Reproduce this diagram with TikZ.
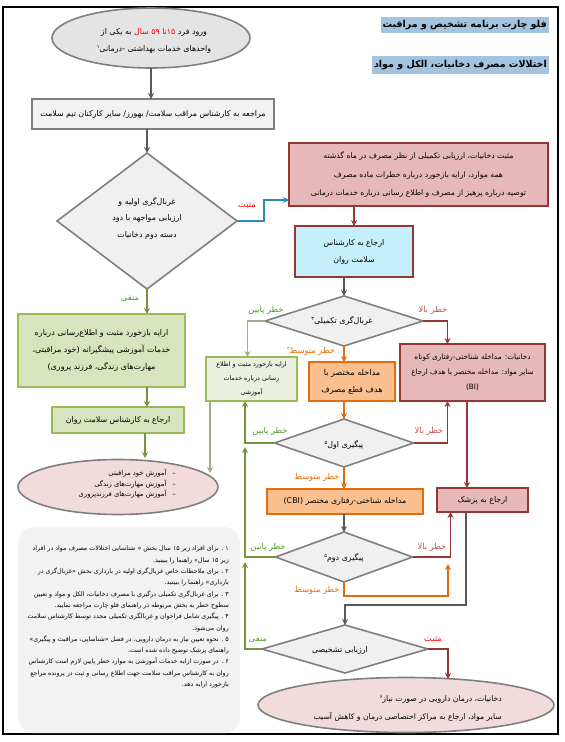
\documentclass[tikz,border=0pt]{standalone}
\usepackage{fontspec}
\usetikzlibrary{arrows.meta,shapes.geometric,calc}
\TeXXeTstate=1
\newfontfamily\fa[Script=Arabic]{DejaVu Sans}
\newcommand{\rl}[1]{\beginR #1\endR}
\newcommand{\sps}[1]{\raisebox{0.7ex}{\fontsize{5}{5}\selectfont #1}}
\definecolor{grayfill}{HTML}{F0F0F0}
\definecolor{ellgray}{HTML}{E4E4E4}
\definecolor{grayline}{HTML}{7F7F7F}
\definecolor{pinkfill}{HTML}{E6B9B8}
\definecolor{darkred}{HTML}{953735}
\definecolor{cyanfill}{HTML}{C6EFFC}
\definecolor{orfill}{HTML}{FAC090}
\definecolor{orline}{HTML}{E46C0A}
\definecolor{grfill}{HTML}{D7E4BD}
\definecolor{grline}{HTML}{9BBB59}
\definecolor{grpale}{HTML}{EBF1DE}
\definecolor{elpink}{HTML}{F2DCDB}
\definecolor{blueline}{HTML}{2E8BB8}
\definecolor{arrgreen}{HTML}{77933C}
\definecolor{graygreen}{HTML}{9FAD8C}
\definecolor{lblgreen}{HTML}{4E9A2A}
\definecolor{lblred}{HTML}{C0504D}
\definecolor{darkgray}{HTML}{595959}
\definecolor{titlebg}{HTML}{A3C4DE}
\definecolor{notefill}{HTML}{F2F2F2}
\tikzset{
  box/.style={draw, line width=1.6pt, inner sep=0pt, outer sep=0pt, align=center},
  dia/.style={diamond, draw=grayline, fill=grayfill, line width=1.6pt, inner sep=0pt, outer sep=0pt},
  ell/.style={ellipse, draw=grayline, line width=1.6pt, inner sep=0pt, outer sep=0pt},
  tx/.style={font=\fa\fontsize{7.9}{17}\selectfont, align=center, inner sep=0pt},
  lbl/.style={font=\fa\fontsize{8.3}{9}\selectfont, inner sep=0pt},
  conn/.style={line width=1.8pt, -{Stealth[length=6pt,width=6pt]}},
  gyarr/.style={conn, darkgray},
  garr/.style={conn, arrgreen},
  ggarr/.style={conn, graygreen},
  rarr/.style={conn, darkred},
  oarr/.style={conn, orline},
  barr/.style={conn, blueline},
}
\begin{document}
\begin{tikzpicture}[x=1pt,y=-1pt]
\useasboundingbox (0,0) rectangle (565,742);
\draw[line width=1.5pt] (3,7) rectangle (558,734);

% title
\node[fill=titlebg, inner xsep=2pt, inner ysep=3pt, font=\fa\bfseries\fontsize{9.5}{11}\selectfont, anchor=east] (t1) at (549,25) {\rl{فلو چارت برنامه تشخیص و مراقبت}};
\node[fill=titlebg, inner xsep=2pt, inner ysep=4pt, font=\fa\bfseries\fontsize{9.5}{11}\selectfont, anchor=east] (t2) at (549,65) {\rl{اختلالات مصرف دخانیات، الکل و مواد}};

% top ellipse
\node[ell, fill=ellgray, minimum width=198pt, minimum height=60pt] (e1) at (151,38) {};
\node[tx] (e1t) at (154,41) {\rl{به یکی از} \textcolor{red}{\rl{۱۵تا ۵۹ سال}} \rl{ورود فرد}\\\rl{واحدهای خدمات بهداشتی -درمانی\sps{۱}}};

% first rect
\node[box, draw=grayline, fill=notefill, minimum width=242pt, minimum height=30pt, tx] (r1) at (153,114) {\rl{مراجعه به کارشناس مراقب سلامت/ بهورز/ سایر کارکنان تیم سلامت}};

% big diamond
\node[dia, minimum width=180pt, minimum height=136pt] (d1) at (147,221) {};
\node[tx, font=\fa\fontsize{7.9}{16.5}\selectfont] (d1t) at (147,218) {\rl{غربال‌گری اولیه  و}\\\rl{ارزیابی مواجهه با دود}\\\rl{دسته دوم دخانیات}};

% pink top box
\node[box, draw=darkred, fill=pinkfill, minimum width=259pt, minimum height=63pt, font=\fa\fontsize{7.7}{18.5}\selectfont] (p1) at (418.5,174.5) {\rl{مثبت دخانیات، ارزیابی تکمیلی از نظر مصرف در ماه گذشته}\\\rl{همه موارد، ارایه بازخورد درباره خطرات ماده مصرف}\\\rl{توصیه درباره پرهیز از مصرف و اطلاع رسانی درباره خدمات درمانی}};

% cyan box
\node[box, draw=darkred, fill=cyanfill, minimum width=118pt, minimum height=51pt, font=\fa\fontsize{7.9}{17}\selectfont] (c1) at (354,251.5) {\rl{ارجاع به کارشناس}\\\rl{سلامت روان}};

% diamonds on the spine
\node[dia, minimum width=158pt, minimum height=50pt] (d2) at (344,321) {};
\node[tx] (d2t) at (342,321) {\rl{غربال‌گری تکمیلی\sps{۳}}};
\node[dia, minimum width=139pt, minimum height=48pt] (d3) at (344,443) {};
\node[tx] (d3t) at (344,445) {\rl{پیگیری  اول\sps{۵}}};
\node[dia, minimum width=137pt, minimum height=50pt] (d4) at (344,557) {};
\node[tx] (d4t) at (344,558) {\rl{پیگیری دوم\sps{۵}}};
\node[dia, minimum width=166pt, minimum height=48pt] (d5) at (345,649) {};
\node[tx] (d5t) at (340,650) {\rl{ارزیابی تشخیصی}};

% middle boxes
\node[box, draw=grline, fill=grpale, minimum width=91pt, minimum height=44pt, font=\fa\fontsize{6.3}{14}\selectfont] (g2) at (251.5,379) {\rl{ارایه بازخورد مثبت و اطلاع}\\\rl{رسانی درباره خدمات}\\\rl{آموزشی}};
\node[box, draw=orline, fill=orfill, minimum width=86pt, minimum height=39pt, font=\fa\fontsize{8.1}{17}\selectfont] (o1) at (352,381.5) {\rl{مداخله مختصر با}\\\rl{هدف قطع مصرف}};
\node[box, draw=darkred, fill=pinkfill, minimum width=145pt, minimum height=57pt, font=\fa\fontsize{7.3}{15}\selectfont] (p2) at (472.5,372.5) {\rl{دخانیات: مداخله شناختی-رفتاری کوتاه}\\\rl{سایر مواد: مداخله مختصر با هدف ارجاع}\\(BI)};
\node[box, draw=orline, fill=orfill, minimum width=156pt, minimum height=25pt, tx] (cbi) at (345,501.5) {\rl{مداخله شناختی-رفتاری مختصر \beginL(CBI)\endL}};
\node[box, draw=darkred, fill=pinkfill, minimum width=91pt, minimum height=24pt, tx] (pz) at (482.5,500) {\rl{ارجاع به پزشک}};

% bottom ellipse
\node[ell, fill=elpink, minimum width=296pt, minimum height=55pt] (e3) at (406,705) {};
\node[tx, align=right, anchor=east, font=\fa\fontsize{7.7}{18}\selectfont] (e3t) at (502,708) {\rl{دخانیات، درمان دارویی در صورت نیاز\sps{۶}}\\\rl{سایر مواد، ارجاع به مراکز اختصاصی درمان و کاهش آسیب}};

% left column
\node[box, draw=grline, fill=grfill, minimum width=167pt, minimum height=73pt, font=\fa\fontsize{8}{17}\selectfont] (g1) at (101.5,350.5) {\rl{ارایه بازخورد مثبت و اطلاع‌رسانی درباره}\\\rl{خدمات آموزشی پیشگیرانه (خود مراقبتی،}\\\rl{مهارت‌های زندگی، فرزند پروری)}};
\node[box, draw=grline, fill=grfill, minimum width=132pt, minimum height=26pt, tx] (g3) at (118,420) {\rl{ارجاع به کارشناس سلامت روان}};
\node[ell, fill=elpink, minimum width=200pt, minimum height=55pt] (e2) at (118,487) {};
\node[tx, align=right, anchor=east, font=\fa\fontsize{6.8}{10.5}\selectfont] (e2t) at (176,484) {\rl{–\hspace{6pt}آموزش خود مراقبتی}\\\rl{–\hspace{6pt}آموزش مهارت‌های زندگی}\\\rl{–\hspace{6pt}آموزش مهارت‌های فرزندپروری}};

% notes
\node[fill=notefill, rounded corners=16pt, minimum width=222pt, minimum height=206pt, anchor=north west] (nb) at (18,527) {};
\node[anchor=north east, align=right, inner sep=0pt, font=\fa\fontsize{6.3}{11.3}\selectfont] (notes) at (229,546) {%
\rl{۱ . برای افراد زیر ۱۵ سال بخش « شناسایی اختلالات مصرف مواد در افراد}\\
\rl{زیر ۱۵ سال» راهنما را ببینید.}\\
\rl{۲ . برای ملاحظات خاص غربال‌گری اولیه در بارداری بخش «غربال‌گری در}\\
\rl{بارداری» راهنما را ببینید.}\\
\rl{۳ . برای غربال‌گری تکمیلی درگیری با مصرف دخانیات، الکل و مواد و تعیین}\\
\rl{سطوح خطر به بخش مربوطه در راهنمای فلو چارت مراجعه نمایید.}\\
\rl{۴ . پیگیری شامل فراخوان و غربالگری تکمیلی مجدد توسط کارشناس سلامت}\\
\rl{روان می‌شود.}\\
\rl{۵ . نحوه تعیین نیاز به درمان دارویی، در فصل «شناسایی، مراقبت و پیگیری»}\\
\rl{راهنمای پزشک توضیح داده شده است.}\\
\rl{۶ . در صورت ارایه خدمات آموزشی به موارد خطر پایین لازم است کارشناس}\\
\rl{روان به کارشناس مراقب سلامت جهت اطلاع رسانی و ثبت در پرونده مراجع}\\
\rl{بازخورد ارایه دهد.}};

% helper coordinates
\coordinate (bj) at (264,200);
\coordinate (lowx) at (245,0);
\coordinate (e2a) at (145,458);
\coordinate (e2b) at (210,473);
\coordinate (omb) at (448,596);
\coordinate (om) at (448,564);
\coordinate (gj) at (466,605);
\coordinate (e3a) at (448,679);

% connectors
\draw[gyarr] (e1.south) -- (e1.south |- r1.north);
\draw[gyarr] (r1.south -| d1.north) -- (d1.north);
\draw[barr] (d1.east) -| (bj) -- (bj -| p1.west);
\draw[rarr] (p1.south -| c1.north) -- (c1.north);
\draw[gyarr] (c1.south -| d2.north) -- (d2.north);
\draw[ggarr] (d2.west) -| ([xshift=-4pt]g2.north);
\draw[rarr] (d2.east) -| ([xshift=-25pt]p2.north);
\draw[oarr] (d2.south) -- (d2.south |- o1.north);
\draw[oarr] (o1.south -| d3.north) -- (d3.north);
\draw[garr] (d3.west) -| (lowx |- g2.south);
\draw[rarr] (d3.east) -| ([xshift=-25pt]p2.south);
\draw[oarr] (d3.south) -- (d3.south |- cbi.north);
\draw[rarr] ([xshift=-5.5pt]p2.south) -- ([xshift=-5.5pt]p2.south |- pz.north);
\draw[gyarr] (cbi.south -| d4.north) -- (d4.north);
\draw[garr] (d4.west) -| ([yshift=-4pt]lowx |- d3.west);
\draw[rarr] (d4.east) -| ([xshift=-32pt]pz.south);
\draw[oarr] (d4.south) |- (omb) -- (om);
\draw[gyarr] (pz.south -| gj) |- (d5.north |- gj) -- (d5.north);
\draw[garr] (d5.west) -| ([yshift=-5pt]lowx |- d4.west);
\draw[rarr] (d5.east) -| (e3a);
\draw[garr] (d1.south) -- (d1.south |- g1.north);
\draw[garr] (d1.south |- g1.south) -- (d1.south |- g3.north);
\draw[garr] (g3.south -| e2a) -- (e2a);
\draw[ggarr] (g2.south -| e2b) -- (e2b);

% labels
\node[lbl, text=red] (l1) at (247,206) {\rl{مثبت}};
\node[lbl, text=lblgreen] (l2) at (130,299) {\rl{منفی}};
\node[lbl, text=lblgreen] (l3) at (266,310) {\rl{خطر پایین}};
\node[lbl, text=lblred] (l4) at (433,310) {\rl{خطر بالا}};
\node[lbl, text=orline] (l5) at (311,351) {\rl{خطر متوسط\sps{۴}}};
\node[lbl, text=lblgreen] (l6) at (270,431) {\rl{خطر پایین}};
\node[lbl, text=lblred] (l7) at (429,431) {\rl{خطر بالا}};
\node[lbl, text=orline] (l8) at (317,477) {\rl{خطر متوسط}};
\node[lbl, text=lblgreen] (l9) at (268,547) {\rl{خطر پایین}};
\node[lbl, text=lblred] (l10) at (432,547) {\rl{خطر بالا}};
\node[lbl, text=orline] (l11) at (317,590) {\rl{خطر متوسط}};
\node[lbl, text=lblgreen] (l12) at (258,640) {\rl{منفی}};
\node[lbl, text=red] (l13) at (433,640) {\rl{مثبت}};
\end{tikzpicture}
\end{document}
